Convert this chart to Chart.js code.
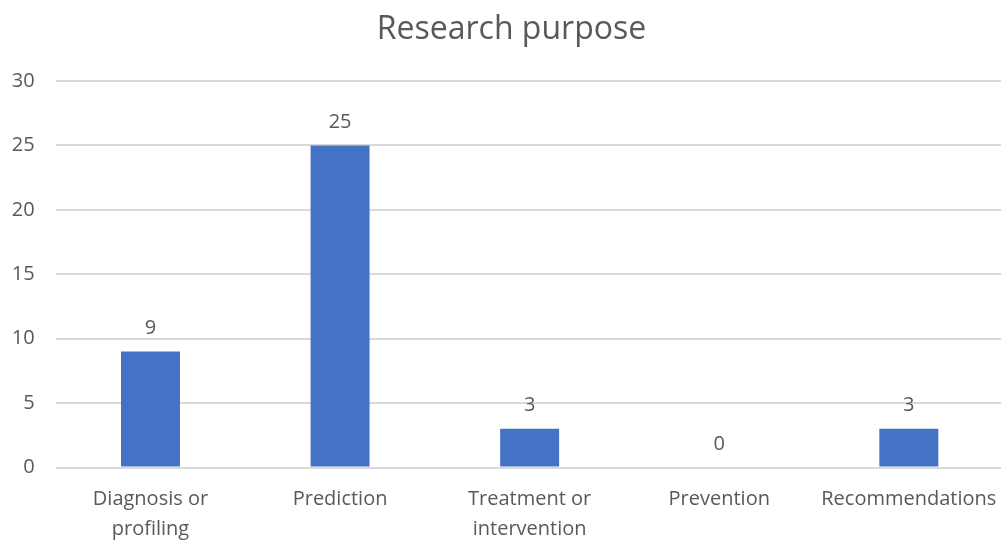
<!DOCTYPE html>
<html>
<head>
<meta charset="utf-8">
<script src="https://cdn.jsdelivr.net/npm/chart.js@4"></script>
<style>
  html, body { margin: 0; padding: 0; background: #ffffff; overflow: hidden; }
  #wrap { width: 1023px; height: 540px; }
</style>
</head>
<body>
<div id="wrap"><canvas id="chart" width="1023" height="540"></canvas></div>
<script>
const categories = [
  ['Diagnosis or', 'profiling'],
  'Prediction',
  ['Treatment or', 'intervention'],
  'Prevention',
  'Recommendations'
];
const counts = [9, 25, 3, 0, 3];
const yTicks = [0, 5, 10, 15, 20, 25, 30];

const textColor = '#595959';
const fontFamily = '"Open Sans", "Noto Sans", sans-serif';

// Writes each bar's value just above it
const valueLabels = {
  id: 'valueLabels',
  afterDatasetsDraw(chart) {
    const ctx = chart.ctx;
    const meta = chart.getDatasetMeta(0);
    ctx.save();
    ctx.font = '20px ' + fontFamily;
    ctx.fillStyle = textColor;
    ctx.textAlign = 'center';
    ctx.textBaseline = 'middle';
    meta.data.forEach((bar, i) => {
      ctx.fillText(String(counts[i]), bar.x, bar.y - 23.5);
    });
    ctx.restore();
  }
};

new Chart(document.getElementById('chart'), {
  type: 'bar',
  data: {
    labels: categories,
    datasets: [{
      data: counts,
      backgroundColor: '#4472C4',
      borderWidth: 0,
      categoryPercentage: 1,
      barPercentage: 0.311
    }]
  },
  options: {
    responsive: false,
    animation: false,
    layout: { padding: 0 },
    plugins: {
      legend: { display: false },
      tooltip: { enabled: false },
      title: {
        display: true,
        text: 'Research purpose',
        color: textColor,
        font: { family: fontFamily, size: 32, weight: 'normal' },
        padding: { top: 10.5, bottom: 32.1 }
      }
    },
    scales: {
      x: {
        grid: { display: false, drawTicks: false },
        border: { display: false },
        ticks: {
          color: textColor,
          font: { family: fontFamily, size: 20, lineHeight: 1.5 },
          padding: 17,
          maxRotation: 0,
          autoSkip: false
        },
        afterFit(scale) {
          scale.height = 72.5;
          scale.paddingLeft = 0;
          scale.paddingRight = 19.4;
        }
      },
      y: {
        min: 0,
        max: 30,
        afterBuildTicks(scale) { scale.ticks = yTicks.map(v => ({ value: v })); },
        grid: { color: '#d9d9d9', lineWidth: 2, drawTicks: false },
        border: { display: false },
        ticks: {
          color: textColor,
          font: { family: fontFamily, size: 20 },
          padding: 21
        },
        afterFit(scale) { scale.width = 55.7; }
      }
    }
  },
  plugins: [valueLabels]
});
</script>
</body>
</html>
